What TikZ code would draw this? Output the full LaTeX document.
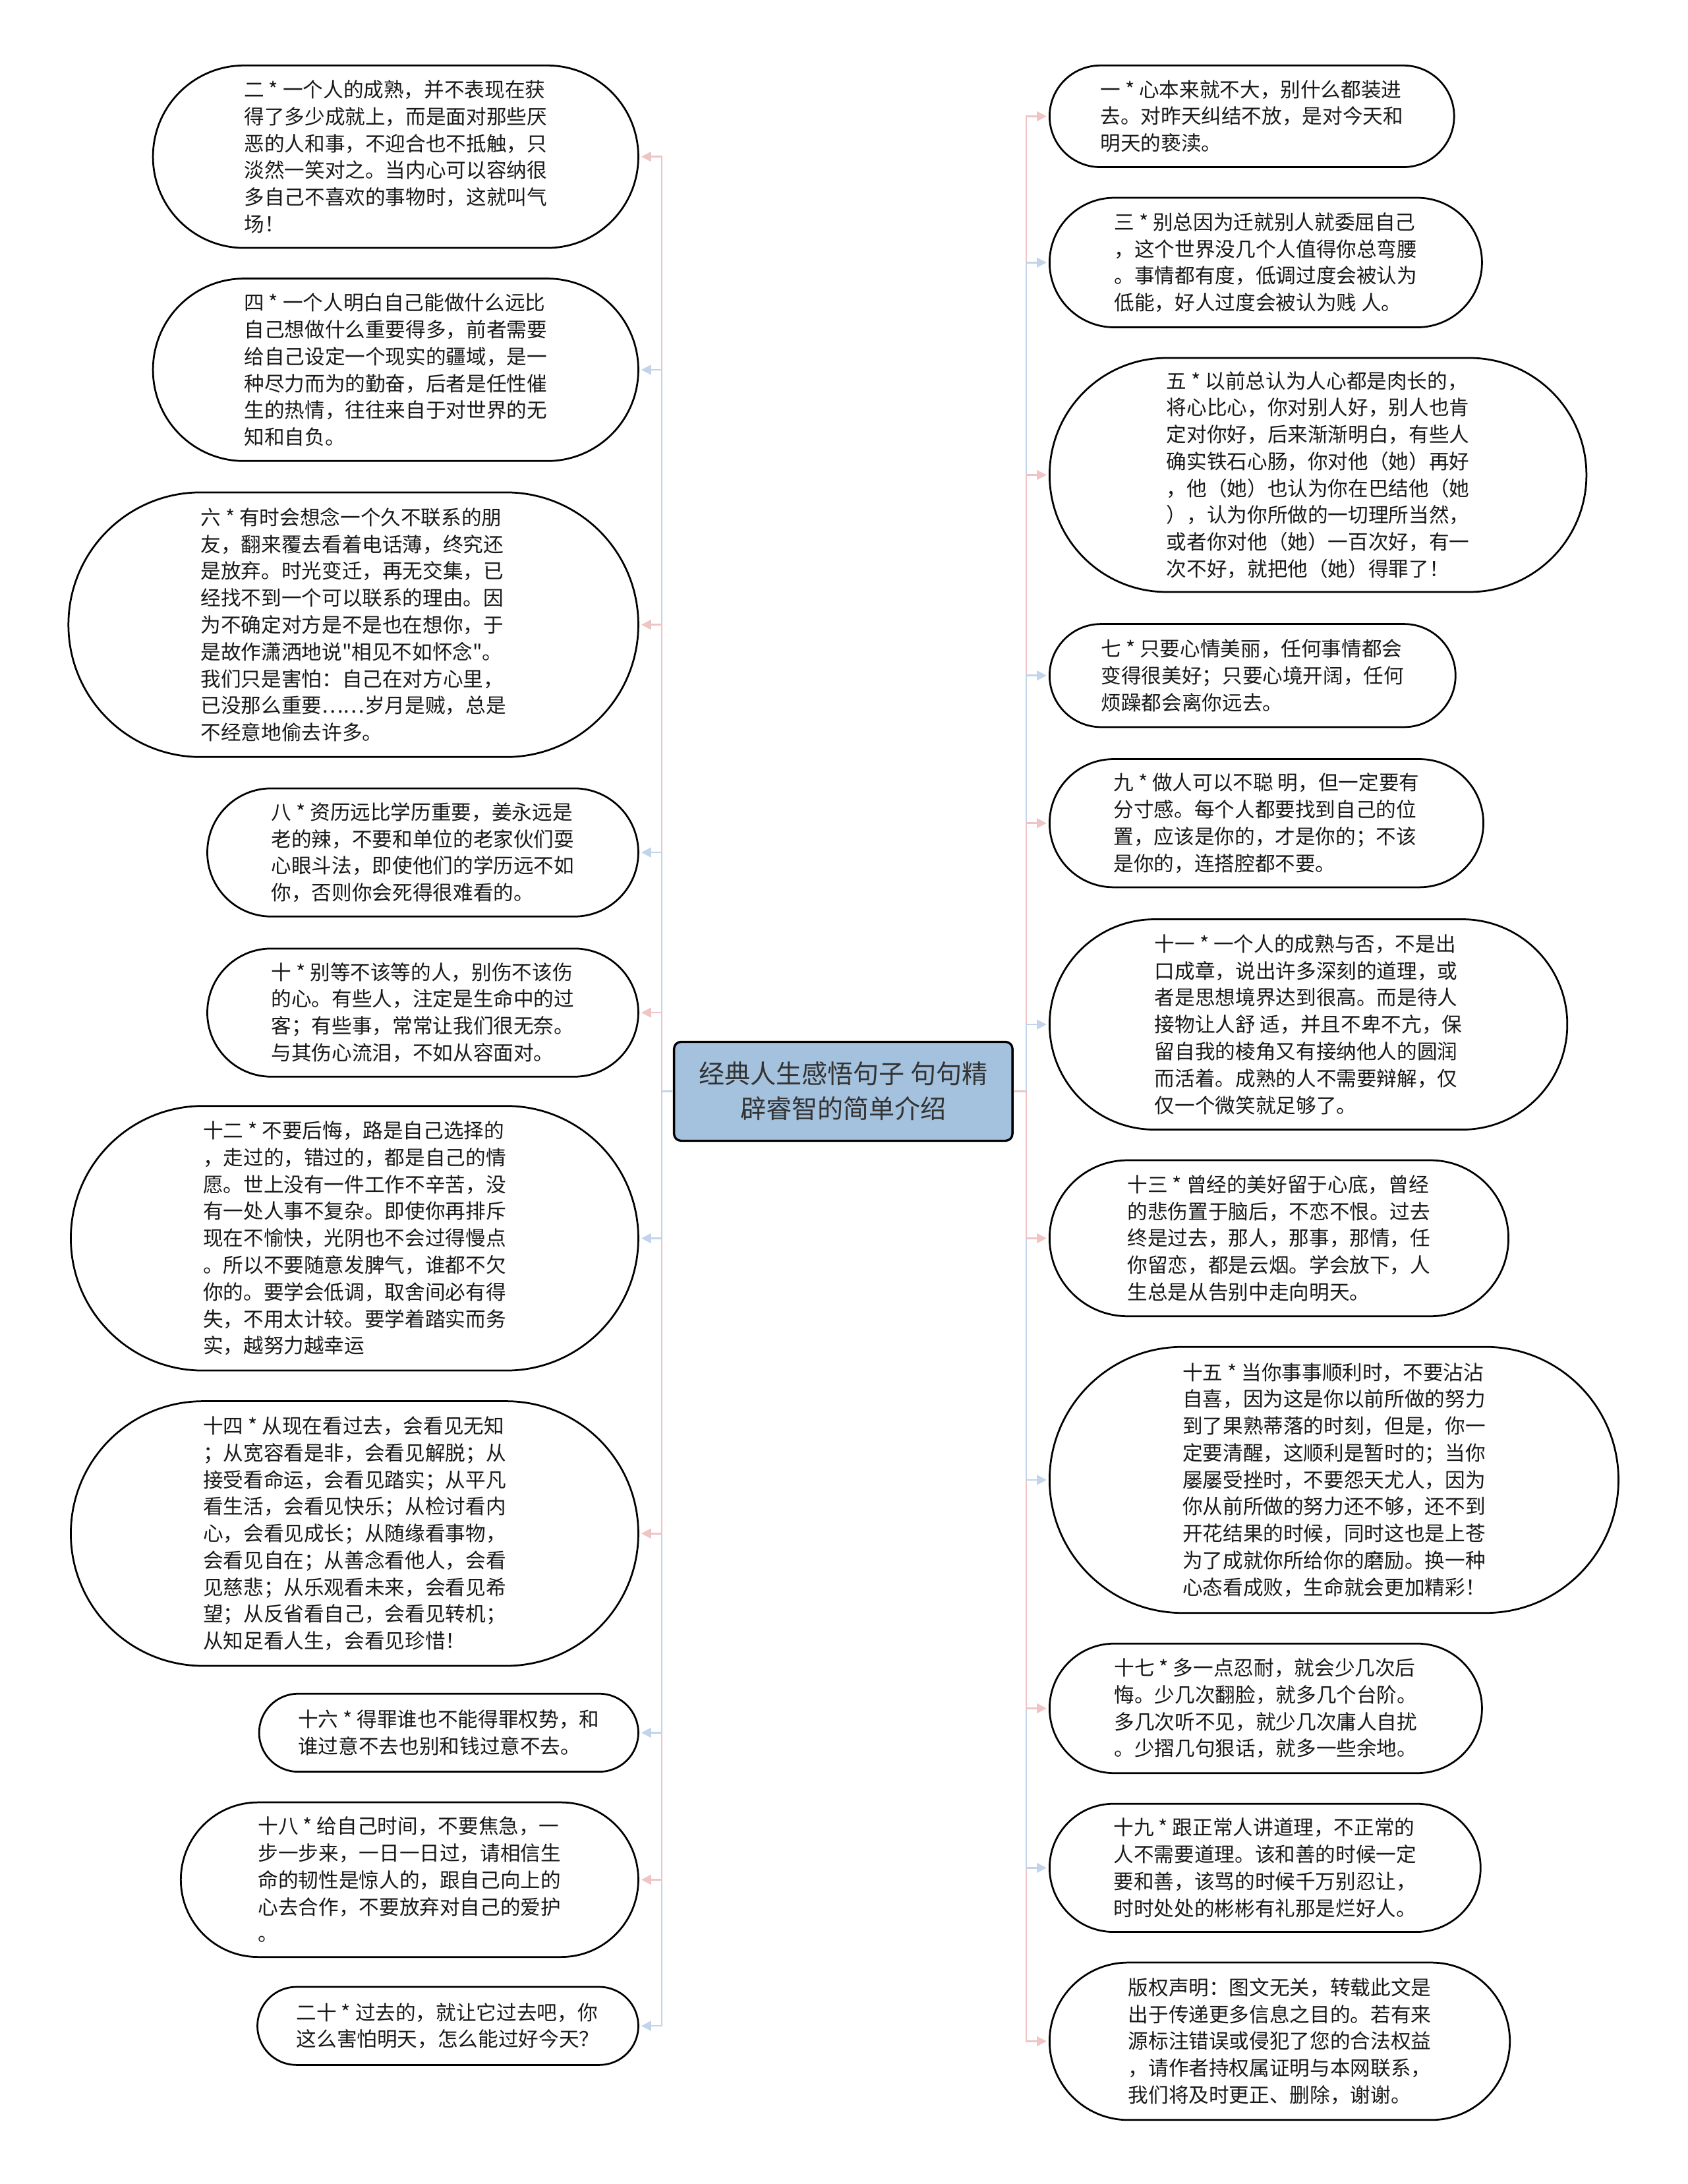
\documentclass[tikz,border=0pt]{standalone}
\usepackage{fontspec}
\setmainfont{Noto Sans CJK SC}[Ligatures=TeXOff]
\usetikzlibrary{arrows.meta}
\definecolor{pinkc}{RGB}{239,196,197}
\definecolor{bluec}{RGB}{194,212,233}
\definecolor{centerfill}{RGB}{164,194,222}
\definecolor{textc}{RGB}{25,25,25}
\definecolor{ctext}{RGB}{51,51,51}
\tikzset{
  bub/.style={draw=black, line width=1.3pt, fill=white, align=left, text=textc,
    font=\fontsize{14.5}{19.3}\selectfont, inner ysep=0pt, inner xsep=#1/2,
    minimum height=#1, rounded corners=#1/2-0.05},
  conn/.style={line width=1.2pt, -{Triangle[length=7pt,width=7pt]}, shorten >=1.5pt},
  centerbox/.style={draw=black, line width=1.6pt, fill=centerfill, rounded corners=5pt,
    minimum width=243, minimum height=71, align=center, text=ctext,
    font=\fontsize{18.5}{25}\selectfont}
}
\begin{document}
\begin{tikzpicture}[x=1pt,y=-1pt]
\fill[white] (0,0) rectangle (1212,1568);
\useasboundingbox (0,0) rectangle (1212,1568);

\node[centerbox] (c) at (605.5,783.5) {经典人生感悟句子 句句精\\辟睿智的简单介绍};

% ---- left column ----
\node[bub=131, anchor=east] (n2) at (459,112.5) {二 * 一个人的成熟，并不表现在获\\得了多少成就上，而是面对那些厌\\恶的人和事，不迎合也不抵触，只\\淡然一笑对之。当内心可以容纳很\\多自己不喜欢的事物时，这就叫气\\场！};
\node[bub=131, anchor=east] (n4) at (459,265.5) {四 * 一个人明白自己能做什么远比\\自己想做什么重要得多，前者需要\\给自己设定一个现实的疆域，是一\\种尽力而为的勤奋，后者是任性催\\生的热情，往往来自于对世界的无\\知和自负。};
\node[bub=190, anchor=east] (n6) at (459,448.5) {六 * 有时会想念一个久不联系的朋\\友，翻来覆去看着电话薄，终究还\\是放弃。时光变迁，再无交集，已\\经找不到一个可以联系的理由。因\\为不确定对方是不是也在想你，于\\是故作潇洒地说"相见不如怀念"。\\我们只是害怕：自己在对方心里，\\已没那么重要……岁月是贼，总是\\不经意地偷去许多。};
\node[bub=92, anchor=east] (n8) at (459,612) {八 * 资历远比学历重要，姜永远是\\老的辣，不要和单位的老家伙们耍\\心眼斗法，即使他们的学历远不如\\你，否则你会死得很难看的。};
\node[bub=92, anchor=east] (n10) at (459,727) {十 * 别等不该等的人，别伤不该伤\\的心。有些人，注定是生命中的过\\客；有些事，常常让我们很无奈。\\与其伤心流泪，不如从容面对。};
\node[bub=190, anchor=east] (n12) at (459,889) {十二 * 不要后悔，路是自己选择的\\，走过的，错过的，都是自己的情\\愿。世上没有一件工作不辛苦，没\\有一处人事不复杂。即使你再排斥\\现在不愉快，光阴也不会过得慢点\\。所以不要随意发脾气，谁都不欠\\你的。要学会低调，取舍间必有得\\失，不用太计较。要学着踏实而务\\实，越努力越幸运};
\node[bub=190, anchor=east] (n14) at (459,1101) {十四 * 从现在看过去，会看见无知\\；从宽容看是非，会看见解脱；从\\接受看命运，会看见踏实；从平凡\\看生活，会看见快乐；从检讨看内\\心，会看见成长；从随缘看事物，\\会看见自在；从善念看他人，会看\\见慈悲；从乐观看未来，会看见希\\望；从反省看自己，会看见转机；\\从知足看人生，会看见珍惜！};
\node[bub=56, anchor=east] (n16) at (459,1244) {十六 * 得罪谁也不能得罪权势，和\\谁过意不去也别和钱过意不去。};
\node[bub=111, anchor=east] (n18) at (459,1349.5) {十八 * 给自己时间，不要焦急，一\\步一步来，一日一日过，请相信生\\命的韧性是惊人的，跟自己向上的\\心去合作，不要放弃对自己的爱护\\。};
\node[bub=56, anchor=east] (n20) at (459,1454.5) {二十 * 过去的，就让它过去吧，你\\这么害怕明天，怎么能过好今天？};

% ---- right column ----
\node[bub=73, anchor=west] (n1) at (753,83.5) {一 * 心本来就不大，别什么都装进\\去。对昨天纠结不放，是对今天和\\明天的亵渎。};
\node[bub=93, anchor=west] (n3) at (753,188.5) {三 * 别总因为迁就别人就委屈自己\\，这个世界没几个人值得你总弯腰\\。事情都有度，低调过度会被认为\\低能，好人过度会被认为贱 人。};
\node[bub=168, anchor=west] (n5) at (753,341) {五 * 以前总认为人心都是肉长的，\\将心比心，你对别人好，别人也肯\\定对你好，后来渐渐明白，有些人\\确实铁石心肠，你对他（她）再好\\，他（她）也认为你在巴结他（她\\），认为你所做的一切理所当然，\\或者你对他（她）一百次好，有一\\次不好，就把他（她）得罪了！};
\node[bub=74, anchor=west] (n7) at (753,485) {七 * 只要心情美丽，任何事情都会\\变得很美好；只要心境开阔，任何\\烦躁都会离你远去。};
\node[bub=92, anchor=west] (n9) at (753,591) {九 * 做人可以不聪 明，但一定要有\\分寸感。每个人都要找到自己的位\\置，应该是你的，才是你的；不该\\是你的，连搭腔都不要。};
\node[bub=151, anchor=west] (n11) at (753,735.5) {十一 * 一个人的成熟与否，不是出\\口成章，说出许多深刻的道理，或\\者是思想境界达到很高。而是待人\\接物让人舒 适，并且不卑不亢，保\\留自我的棱角又有接纳他人的圆润\\而活着。成熟的人不需要辩解，仅\\仅一个微笑就足够了。};
\node[bub=112, anchor=west] (n13) at (753,889) {十三 * 曾经的美好留于心底，曾经\\的悲伤置于脑后，不恋不恨。过去\\终是过去，那人，那事，那情，任\\你留恋，都是云烟。学会放下，人\\生总是从告别中走向明天。};
\node[bub=191, anchor=west] (n15) at (753,1062.5) {十五 * 当你事事顺利时，不要沾沾\\自喜，因为这是你以前所做的努力\\到了果熟蒂落的时刻，但是，你一\\定要清醒，这顺利是暂时的；当你\\屡屡受挫时，不要怨天尤人，因为\\你从前所做的努力还不够，还不到\\开花结果的时候，同时这也是上苍\\为了成就你所给你的磨励。换一种\\心态看成败，生命就会更加精彩！};
\node[bub=93, anchor=west] (n17) at (753,1226.5) {十七 * 多一点忍耐，就会少几次后\\悔。少几次翻脸，就多几个台阶。\\多几次听不见，就少几次庸人自扰\\。少摺几句狠话，就多一些余地。};
\node[bub=92, anchor=west] (n19) at (753,1341) {十九 * 跟正常人讲道理，不正常的\\人不需要道理。该和善的时候一定\\要和善，该骂的时候千万别忍让，\\时时处处的彬彬有礼那是烂好人。};
\node[bub=113, anchor=west] (n21) at (753,1465.5) {版权声明：图文无关，转载此文是\\出于传递更多信息之目的。若有来\\源标注错误或侵犯了您的合法权益\\，请作者持权属证明与本网联系，\\我们将及时更正、删除，谢谢。};

% ---- connectors (outer first, inner last) ----
% left, upper half
\draw[conn, pinkc] (c.west) -- ++(-8,0) |- (n2.east);
\draw[conn, bluec] (c.west) -- ++(-8,0) |- (n4.east);
\draw[conn, pinkc] (c.west) -- ++(-8,0) |- (n6.east);
\draw[conn, bluec] (c.west) -- ++(-8,0) |- (n8.east);
\draw[conn, pinkc] (c.west) -- ++(-8,0) |- (n10.east);
% left, lower half
\draw[conn, bluec] (c.west) -- ++(-8,0) |- (n20.east);
\draw[conn, pinkc] (c.west) -- ++(-8,0) |- (n18.east);
\draw[conn, bluec] (c.west) -- ++(-8,0) |- (n16.east);
\draw[conn, pinkc] (c.west) -- ++(-8,0) |- (n14.east);
\draw[conn, bluec] (c.west) -- ++(-8,0) |- (n12.east);
% right, upper half
\draw[conn, pinkc] (c.east) -- ++(9,0) |- (n1.west);
\draw[conn, bluec] (c.east) -- ++(9,0) |- (n3.west);
\draw[conn, pinkc] (c.east) -- ++(9,0) |- (n5.west);
\draw[conn, bluec] (c.east) -- ++(9,0) |- (n7.west);
\draw[conn, pinkc] (c.east) -- ++(9,0) |- (n9.west);
\draw[conn, bluec] (c.east) -- ++(9,0) |- (n11.west);
% right, lower half
\draw[conn, pinkc] (c.east) -- ++(9,0) |- (n21.west);
\draw[conn, bluec] (c.east) -- ++(9,0) |- (n19.west);
\draw[conn, pinkc] (c.east) -- ++(9,0) |- (n17.west);
\draw[conn, bluec] (c.east) -- ++(9,0) |- (n15.west);
\draw[conn, pinkc] (c.east) -- ++(9,0) |- (n13.west);
\end{tikzpicture}
\end{document}
